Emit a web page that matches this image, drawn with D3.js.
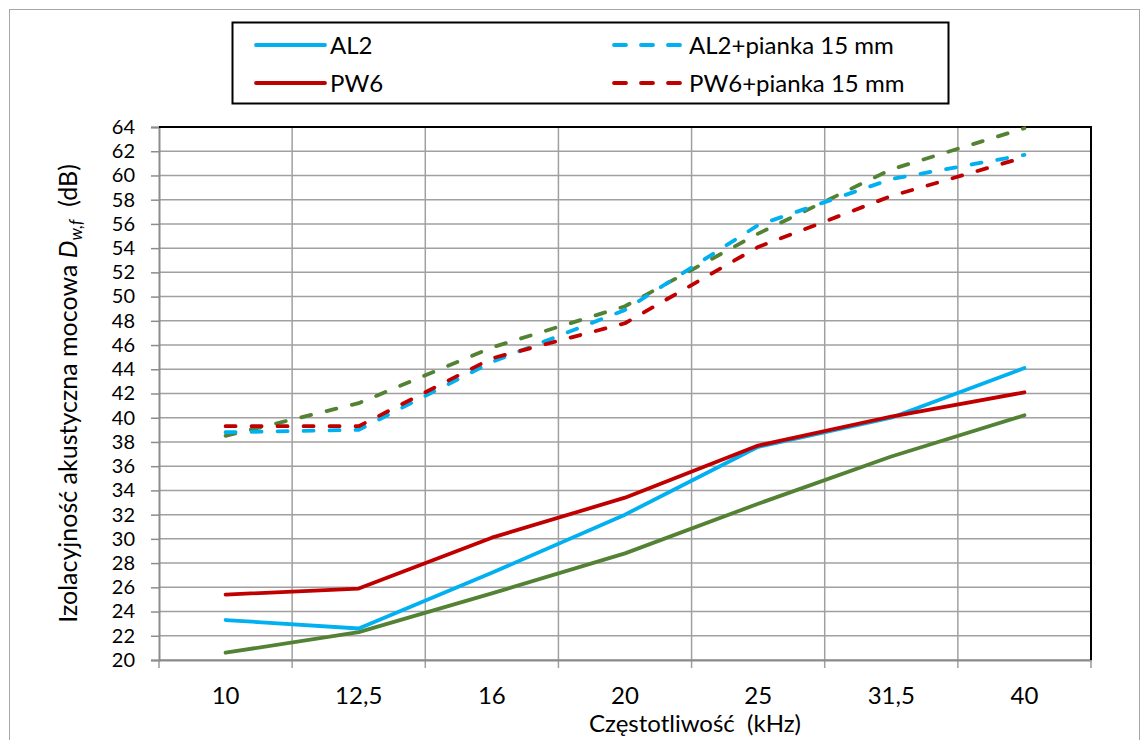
<!DOCTYPE html>
<html><head><meta charset="utf-8">
<script src="https://cdn.jsdelivr.net/npm/d3@7"></script>
<style>
body{margin:0;background:#fff;}
svg{display:block;font-family:Lato,"Liberation Sans",sans-serif;}
</style></head>
<body><svg id="c" width="1148" height="740"></svg>
<script>
const categories = ["10","12,5","16","20","25","31,5","40"];
const yTicks = d3.range(20, 65, 2);
const al2      = [23.3, 22.6, 27.2, 32.0, 37.6, 40.0, 44.1];
const pw6      = [25.4, 25.9, 30.1, 33.4, 37.7, 40.1, 42.1];
const green    = [20.6, 22.3, 25.5, 28.8, 32.9, 36.8, 40.2];
const al2Foam  = [38.8, 39.0, 44.6, 48.9, 55.9, 59.7, 61.7];
const pw6Foam  = [39.3, 39.3, 44.9, 47.8, 54.1, 58.3, 61.5];
const greenFoam= [38.5, 41.2, 45.8, 49.2, 55.2, 60.5, 63.9];
const legendLabels = ["AL2","PW6","AL2+pianka 15 mm","PW6+pianka 15 mm"];

const BLUE="#00B0F0", RED="#C00000", GREEN="#548235";
const series = [
  {v:green, c:GREEN, dash:false},
  {v:al2, c:BLUE, dash:false},
  {v:pw6, c:RED, dash:false},
  {v:greenFoam, c:GREEN, dash:true},
  {v:al2Foam, c:BLUE, dash:true},
  {v:pw6Foam, c:RED, dash:true}
];

const svg = d3.select("#c");
const L=159, R=1091, T=127, B=660;
const FS=24;
const x = d3.scaleBand().domain(categories).range([L,R]).padding(0);
const y = d3.scaleLinear().domain([20,64]).range([B,T]);

// outer border
svg.append("rect").attr("x",9.5).attr("y",9.5).attr("width",1130).attr("height",740)
  .attr("fill","none").attr("stroke","#a6a6a6").attr("stroke-width",1);

// horizontal gridlines
svg.append("g").selectAll("line").data(yTicks).join("line")
  .attr("x1",L).attr("x2",R).attr("y1",d=>y(d)).attr("y2",d=>y(d))
  .attr("stroke","#a0a0a0").attr("stroke-width",1.5);
// vertical gridlines (category boundaries) + ticks
const bounds = categories.map(c=>x(c)).concat([R]);
svg.append("g").selectAll("line").data(bounds.slice(1,-1)).join("line")
  .attr("x1",d=>d).attr("x2",d=>d).attr("y1",T).attr("y2",B+8)
  .attr("stroke","#a0a0a0").attr("stroke-width",1.5);
svg.append("line").attr("x1",L).attr("x2",L).attr("y1",B).attr("y2",B+8).attr("stroke","#999").attr("stroke-width",1.5);
svg.append("line").attr("x1",R).attr("x2",R).attr("y1",B).attr("y2",B+8).attr("stroke","#999").attr("stroke-width",1.5);

// y axis
const yAxis = d3.axisLeft(y).tickValues(yTicks).tickSize(8).tickPadding(16);
const gy = svg.append("g").attr("transform",`translate(${L},0)`).call(yAxis);
gy.select(".domain").attr("stroke","#8c8c8c").attr("stroke-width",2);
gy.selectAll(".tick line").attr("stroke","#8c8c8c").attr("stroke-width",1.5);
gy.selectAll(".tick text").attr("font-size",20).attr("fill","#000").attr("font-family","Lato");

// x axis
const xAxis = d3.axisBottom(x).tickSize(0).tickPadding(27);
const gx = svg.append("g").attr("transform",`translate(0,${B})`).call(xAxis);
gx.select(".domain").attr("stroke","#8c8c8c").attr("stroke-width",2);
gx.selectAll(".tick text").attr("font-size",FS).attr("fill","#000").attr("font-family","Lato");

// top and right border
svg.append("line").attr("x1",L).attr("x2",R+1).attr("y1",T).attr("y2",T).attr("stroke","#000").attr("stroke-width",2);
svg.append("line").attr("x1",R).attr("x2",R).attr("y1",T).attr("y2",B).attr("stroke","#000").attr("stroke-width",2);

// lines
const line = d3.line().x((d,i)=>x(categories[i])+x.bandwidth()/2).y(d=>y(d));
svg.append("g").selectAll("path").data(series).join("path")
  .attr("d",d=>line(d.v)).attr("fill","none").attr("stroke",d=>d.c)
  .attr("stroke-width",3.8).attr("stroke-linecap","round").attr("stroke-linejoin","round")
  .attr("stroke-dasharray",d=>d.dash?"10,16":null);

// legend
svg.append("rect").attr("x",232.5).attr("y",22.5).attr("width",716).attr("height",81)
  .attr("fill","#fff").attr("stroke","#000").attr("stroke-width",2);
const leg = [
  {t:legendLabels[0],c:BLUE,dash:false,x1:256,x2:325,tx:330,y:45},
  {t:legendLabels[1],c:RED,dash:false,x1:256,x2:325,tx:330,y:83},
  {t:legendLabels[2],c:BLUE,dash:true,x1:614,x2:680,tx:689,y:45},
  {t:legendLabels[3],c:RED,dash:true,x1:614,x2:680,tx:689,y:83}
];
const lg = svg.append("g").selectAll("g").data(leg).join("g");
lg.append("line").attr("x1",d=>d.x1).attr("x2",d=>d.x2).attr("y1",d=>d.y).attr("y2",d=>d.y)
  .attr("stroke",d=>d.c).attr("stroke-width",3.8).attr("stroke-linecap","round")
  .attr("stroke-dasharray",d=>d.dash?"12,15":null);
lg.append("text").attr("x",d=>d.tx).attr("y",d=>d.y).attr("dy","0.36em")
  .attr("font-size",FS).text(d=>d.t);

// axis titles
svg.append("text").attr("x",695).attr("y",732).attr("text-anchor","middle")
  .attr("font-size",FS).attr("xml:space","preserve").text("Częstotliwość  (kHz)");
const yt = svg.append("text").attr("transform",`translate(77,${(T+B)/2}) rotate(-90)`)
  .attr("text-anchor","middle").attr("font-size",25).attr("xml:space","preserve");
yt.append("tspan").text("Izolacyjność akustyczna mocowa ");
yt.append("tspan").attr("font-style","italic").text("D");
yt.append("tspan").attr("font-style","italic").attr("font-size",17).attr("dy",5).text("w,f");
yt.append("tspan").attr("dy",-5).text("  (dB)");
</script></body></html>
